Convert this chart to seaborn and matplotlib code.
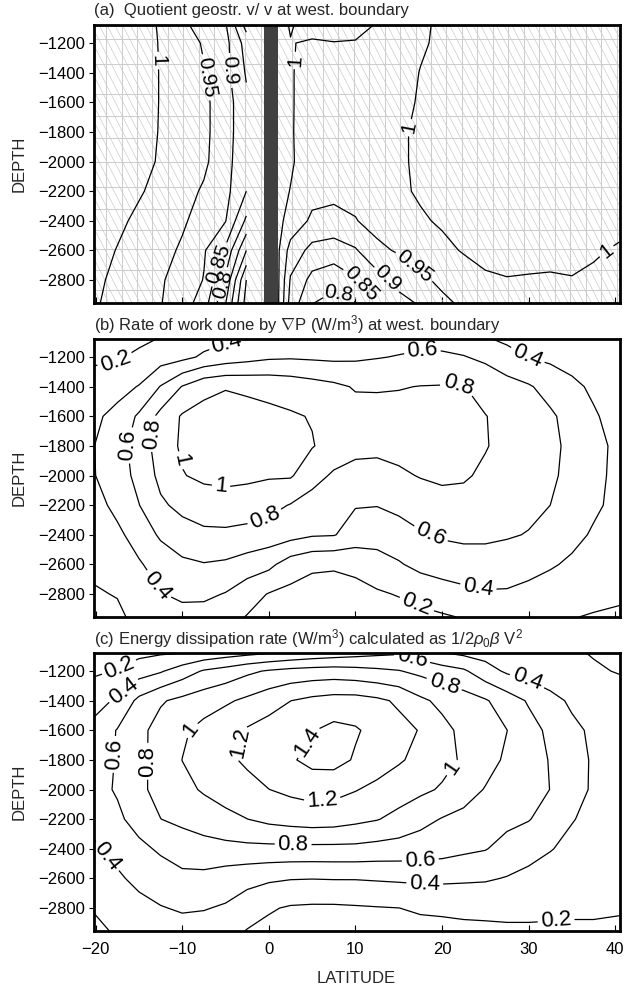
import numpy as np
import matplotlib
matplotlib.use("Agg")
import matplotlib.pyplot as plt
import seaborn as sns

sns.set_theme(style="ticks")
plt.rcParams.update({
    "font.family": ["Liberation Sans", "DejaVu Sans"],
    "mathtext.fontset": "custom",
    "mathtext.rm": "Liberation Sans",
    "mathtext.it": "Liberation Sans:italic",
    "mathtext.bf": "Liberation Sans:bold",
    "axes.linewidth": 1.9,
    "axes.edgecolor": "black",
    "xtick.color": "black",
    "ytick.color": "black",
})

# ---------------------------------------------------------------- data
DEPTH = [-1078, -1200, -1400, -1600, -1800, -2000, -2200, -2400, -2600, -2800, -2955]

# latitudes of panel (a); the column at -1.0 is the land mask at the equator
LAT_A = [-20.25, -17.5, -15, -12.5, -10, -7.5, -5, -2.6, -1.0,
         1.1, 2.5, 5, 7.5, 10, 12.5, 15, 17.5, 20, 22.5, 25, 27.5, 30, 32.5, 35, 37.5, 40.5]
NAN = float("nan")
QUOTIENT = [
    [1.04, 1.03, 1.02, 0.995, 0.96, 0.93, 0.905, 0.78, NAN,
     1.01, 0.998, 1.01, 1.013, 1.01, 0.998, 0.99, 0.995, 1.005, 1.01, 1.012, 1.012, 1.012, 1.012, 1.012, 1.012, 1.012],
    [1.04, 1.03, 1.02, 0.997, 0.975, 0.945, 0.915, 0.83, NAN,
     1.01, 1.001, 0.997, 0.999, 0.998, 0.99, 0.985, 0.996, 1.006, 1.01, 1.012, 1.012, 1.012, 1.012, 1.012, 1.012, 1.012],
    [1.04, 1.03, 1.02, 0.998, 0.977, 0.953, 0.915, 0.845, NAN,
     1.012, 1.002, 0.99, 0.985, 0.982, 0.982, 0.987, 1.001, 1.008, 1.012, 1.012, 1.012, 1.012, 1.012, 1.012, 1.012, 1.012],
    [1.04, 1.03, 1.02, 0.998, 0.98, 0.96, 0.925, 0.86, NAN,
     1.013, 1.003, 0.985, 0.978, 0.975, 0.976, 0.988, 1.004, 1.01, 1.012, 1.012, 1.012, 1.012, 1.012, 1.012, 1.012, 1.012],
    [1.04, 1.03, 1.02, 0.997, 0.98, 0.96, 0.925, 0.86, NAN,
     1.013, 1.003, 0.983, 0.975, 0.972, 0.975, 0.995, 1.006, 1.01, 1.012, 1.012, 1.012, 1.012, 1.012, 1.012, 1.012, 1.012],
    [1.04, 1.03, 1.015, 0.995, 0.978, 0.958, 0.922, 0.855, NAN,
     1.013, 1.004, 0.982, 0.972, 0.968, 0.972, 0.995, 1.006, 1.01, 1.012, 1.012, 1.012, 1.012, 1.012, 1.012, 1.012, 1.012],
    [1.04, 1.025, 1.005, 0.985, 0.965, 0.945, 0.915, 0.85, NAN,
     1.01, 0.999, 0.968, 0.962, 0.962, 0.968, 0.993, 1.005, 1.01, 1.012, 1.012, 1.012, 1.012, 1.012, 1.012, 1.012, 1.012],
    [1.035, 1.01, 0.99, 0.975, 0.955, 0.935, 0.902, 0.79, NAN,
     1.01, 0.985, 0.94, 0.935, 0.948, 0.965, 0.98, 0.995, 1.005, 1.01, 1.012, 1.012, 1.012, 1.012, 1.012, 1.01, 1.005],
    [1.02, 0.998, 0.982, 0.962, 0.945, 0.905, 0.84, 0.70, NAN,
     1.005, 0.93, 0.885, 0.875, 0.895, 0.94, 0.955, 0.975, 0.99, 1.003, 1.008, 1.008, 1.008, 1.008, 1.006, 1.002, 0.998],
    [1.01, 0.99, 0.972, 0.955, 0.93, 0.898, 0.79, 0.60, NAN,
     1.005, 0.895, 0.835, 0.82, 0.845, 0.88, 0.915, 0.94, 0.96, 0.98, 0.996, 0.999, 0.998, 0.997, 0.999, 0.997, 0.99],
    [1.006, 0.985, 0.966, 0.952, 0.925, 0.875, 0.752, 0.58, NAN,
     1.003, 0.88, 0.802, 0.78, 0.798, 0.852, 0.885, 0.905, 0.94, 0.958, 0.97, 0.98, 0.985, 0.985, 0.988, 0.99, 0.985],
]
LEVELS_A = [0.6, 0.65, 0.7, 0.75, 0.8, 0.85, 0.9, 0.95, 1.0]

LAT = [-20.25, -17.5, -15, -12.5, -10, -7.5, -5, -2.5, 0, 2.5, 5, 7.5, 10,
       12.5, 15, 17.5, 20, 22.5, 25, 27.5, 30, 32.5, 35, 37.5, 40.5]

WORK = [
    [0.08, 0.12, 0.16, 0.21, 0.27, 0.33, 0.37, 0.395, 0.41, 0.43, 0.44, 0.44, 0.46, 0.50, 0.53, 0.55, 0.54, 0.50, 0.42, 0.36, 0.34, 0.31, 0.29, 0.27, 0.25],
    [0.17, 0.18, 0.24, 0.31, 0.35, 0.43, 0.49, 0.53, 0.57, 0.58, 0.57, 0.56, 0.57, 0.59, 0.61, 0.63, 0.63, 0.61, 0.56, 0.48, 0.398, 0.36, 0.33, 0.30, 0.28],
    [0.27, 0.33, 0.41, 0.61, 0.81, 0.95, 0.99, 0.97, 0.95, 0.92, 0.88, 0.84, 0.785, 0.785, 0.79, 0.805, 0.81, 0.805, 0.74, 0.67, 0.62, 0.53, 0.44, 0.37, 0.31],
    [0.36, 0.46, 0.63, 0.86, 1.02, 1.06, 1.07, 1.06, 1.04, 1.02, 0.99, 0.93, 0.87, 0.86, 0.87, 0.89, 0.89, 0.86, 0.805, 0.75, 0.70, 0.63, 0.53, 0.42, 0.33],
    [0.395, 0.52, 0.69, 0.89, 1.03, 1.07, 1.08, 1.07, 1.06, 1.04, 1.01, 0.93, 0.85, 0.84, 0.86, 0.89, 0.89, 0.87, 0.81, 0.75, 0.70, 0.64, 0.56, 0.45, 0.36],
    [0.39, 0.50, 0.66, 0.85, 0.99, 1.04, 1.05, 1.04, 1.02, 1.02, 0.88, 0.77, 0.74, 0.74, 0.77, 0.81, 0.83, 0.82, 0.77, 0.73, 0.69, 0.63, 0.55, 0.44, 0.36],
    [0.33, 0.45, 0.595, 0.77, 0.85, 0.90, 0.92, 0.90, 0.86, 0.79, 0.71, 0.65, 0.61, 0.605, 0.64, 0.70, 0.74, 0.74, 0.71, 0.68, 0.65, 0.60, 0.52, 0.43, 0.35],
    [0.27, 0.36, 0.48, 0.63, 0.72, 0.76, 0.76, 0.74, 0.71, 0.67, 0.62, 0.61, 0.52, 0.50, 0.53, 0.58, 0.62, 0.64, 0.64, 0.62, 0.59, 0.53, 0.45, 0.38, 0.32],
    [0.22, 0.29, 0.38, 0.48, 0.56, 0.59, 0.57, 0.51, 0.45, 0.30, 0.23, 0.22, 0.24, 0.30, 0.38, 0.46, 0.50, 0.51, 0.51, 0.49, 0.46, 0.42, 0.37, 0.33, 0.29],
    [0.19, 0.205, 0.30, 0.39, 0.44, 0.44, 0.39, 0.28, 0.19, 0.15, 0.13, 0.13, 0.15, 0.18, 0.21, 0.25, 0.30, 0.35, 0.38, 0.38, 0.35, 0.31, 0.27, 0.24, 0.22],
    [0.13, 0.18, 0.23, 0.30, 0.33, 0.32, 0.27, 0.19, 0.14, 0.10, 0.08, 0.08, 0.09, 0.11, 0.13, 0.16, 0.18, 0.21, 0.24, 0.26, 0.25, 0.23, 0.205, 0.19, 0.18],
]
LEVELS_B = [0.2, 0.4, 0.6, 0.8, 1.0]

DISSIPATION = [
    [0.10, 0.13, 0.15, 0.18, 0.198, 0.26, 0.31, 0.35, 0.39, 0.43, 0.47, 0.50, 0.53, 0.56, 0.58, 0.50, 0.41, 0.36, 0.33, 0.30, 0.27, 0.25, 0.22, 0.19, 0.16],
    [0.17, 0.21, 0.31, 0.38, 0.50, 0.62, 0.68, 0.76, 0.82, 0.86, 0.88, 0.89, 0.87, 0.84, 0.81, 0.75, 0.69, 0.63, 0.48, 0.37, 0.32, 0.28, 0.25, 0.22, 0.19],
    [0.32, 0.43, 0.65, 0.78, 0.85, 0.91, 0.97, 1.04, 1.12, 1.198, 1.25, 1.28, 1.28, 1.24, 1.17, 1.04, 0.95, 0.89, 0.82, 0.70, 0.58, 0.46, 0.37, 0.32, 0.28],
    [0.46, 0.61, 0.75, 0.87, 0.97, 1.06, 1.14, 1.22, 1.28, 1.33, 1.39, 1.45, 1.42, 1.34, 1.26, 1.19, 1.06, 0.95, 0.88, 0.802, 0.67, 0.56, 0.44, 0.37, 0.32],
    [0.53, 0.61, 0.75, 0.875, 1.002, 1.08, 1.16, 1.23, 1.30, 1.375, 1.46, 1.47, 1.38, 1.30, 1.22, 1.15, 1.06, 0.975, 0.87, 0.77, 0.68, 0.59, 0.47, 0.38, 0.34],
    [0.53, 0.62, 0.76, 0.86, 0.95, 1.02, 1.08, 1.14, 1.198, 1.24, 1.27, 1.26, 1.21, 1.15, 1.10, 1.04, 0.98, 0.88, 0.79, 0.72, 0.66, 0.598, 0.46, 0.38, 0.33],
    [0.46, 0.56, 0.68, 0.798, 0.85, 0.90, 0.95, 0.998, 1.05, 1.08, 1.10, 1.09, 1.05, 1.01, 0.94, 0.86, 0.79, 0.75, 0.70, 0.65, 0.61, 0.52, 0.41, 0.35, 0.31],
    [0.37, 0.46, 0.55, 0.63, 0.68, 0.72, 0.74, 0.75, 0.75, 0.75, 0.75, 0.75, 0.75, 0.73, 0.72, 0.70, 0.68, 0.64, 0.61, 0.53, 0.47, 0.41, 0.35, 0.31, 0.28],
    [0.30, 0.37, 0.45, 0.50, 0.56, 0.55, 0.50, 0.46, 0.43, 0.41, 0.405, 0.41, 0.41, 0.42, 0.43, 0.44, 0.44, 0.43, 0.42, 0.39, 0.35, 0.31, 0.28, 0.26, 0.25],
    [0.21, 0.28, 0.34, 0.39, 0.42, 0.41, 0.38, 0.30, 0.22, 0.18, 0.17, 0.17, 0.18, 0.19, 0.199, 0.22, 0.23, 0.24, 0.25, 0.25, 0.25, 0.24, 0.23, 0.22, 0.21],
    [0.16, 0.22, 0.27, 0.31, 0.33, 0.32, 0.28, 0.19, 0.15, 0.12, 0.11, 0.11, 0.12, 0.13, 0.14, 0.15, 0.15, 0.16, 0.16, 0.17, 0.17, 0.17, 0.17, 0.18, 0.18],
]
LEVELS_C = [0.2, 0.4, 0.6, 0.8, 1.0, 1.2, 1.4]

TITLES = [
    "(a)  Quotient geostr. v/ v at west. boundary",
    r"(b) Rate of work done by $\nabla$P (W/m$^3$) at west. boundary",
    r"(c) Energy dissipation rate (W/m$^3$) calculated as 1/2$\rho_0\beta$ V$^2$",
]

# label anchor points (lat, depth) for the contour labels
LABELS_A = [(-12.1, -1317), (-7.1, -1430), (-4.3, -1385), (2.8, -1317), (16.0, -1768),
            (38.3, -2560), (-5.9, -2690), (-5.2, -2830), (16.5, -2731), (13.6, -2800),
            (10.4, -2840), (8.1, -2885)]
LABELS_B = [(-17.7, -1234), (-4.9, -1100), (17.7, -1189), (29.8, -1200), (21.9, -1401),
            (-16.0, -1800), (-13.7, -1715), (-10.4, -1900), (-5.6, -2106), (-0.5, -2274),
            (18.6, -2408), (-12.8, -2740), (24.2, -2755), (17.2, -2856)]
LABELS_C = [(-17.1, -1200), (-16.6, -1346), (16.6, -1100), (20.3, -1279), (30.0, -1234),
            (-9.2, -1583), (-3.7, -1680), (4.0, -1662), (-17.7, -1763), (-14.0, -1809),
            (21.2, -1854), (6.2, -2097), (2.8, -2395), (-18.9, -2462), (17.5, -2485),
            (18.0, -2654), (33.2, -2902)]

# ---------------------------------------------------------------- figure
W, H = 624, 985
fig = plt.figure(figsize=(W / 100, H / 100), dpi=100)
left, width, height = 93.5 / W, 526 / W, 278 / H
tops = [25, 339, 653]
XLIM = (-20.25, 40.5)
YLIM = (-2955, -1078)


def fmt(v):
    return f"{v:g}"


def style_axes(ax, show_x):
    ax.set_xlim(*XLIM)
    ax.set_ylim(*YLIM)
    ax.set_yticks(np.arange(-2800, -1199, 200))
    ax.set_xticks(np.arange(-20, 41, 10))
    ax.tick_params(axis="y", direction="out", length=3.5, width=0.8, pad=2.5, labelsize=12)
    ax.tick_params(axis="x", direction="in", length=4, width=0.8, pad=8, labelsize=12)
    if not show_x:
        ax.tick_params(axis="x", labelbottom=False)
    ax.set_ylabel("DEPTH", fontsize=12, labelpad=8)
    for s in ax.spines.values():
        s.set_linewidth(2.0)
        s.set_zorder(5)


axes = []
for i, top in enumerate(tops):
    ax = fig.add_axes([left, 1 - (top + 278) / H, width, height])
    axes.append(ax)

# (a) model grid, hatching and land mask
ax = axes[0]
for x in -18.8 + 1.787 * np.arange(34):
    ax.axvline(x, color="#cdcdcd", lw=0.75, zorder=0.5)
for y in [-1175, -1340, -1545, -1695, -1840, -2000, -2170, -2320, -2460, -2590, -2730, -2870]:
    ax.axhline(y, color="#cdcdcd", lw=0.75, zorder=0.5)
shift = 0.27
for x0 in np.arange(-0.3, 1.35, 0.0148):
    ax.plot([x0, x0 + shift], [1, 0], transform=ax.transAxes, color="#cccccc",
            lw=0.5, zorder=0.6, clip_on=True)
ax.axvspan(-0.55, 1.05, color="#404040", zorder=3, lw=0)

panels = [
    (LAT_A, QUOTIENT, LEVELS_A, LABELS_A, 15),
    (LAT, WORK, LEVELS_B, LABELS_B, 16),
    (LAT, DISSIPATION, LEVELS_C, LABELS_C, 16),
]
for i, (ax, (lat, field, levels, labels, fs)) in enumerate(zip(axes, panels)):
    z = np.ma.masked_invalid(np.array(field, dtype=float))
    cs = ax.contour(lat, DEPTH, z, levels=levels, colors="black", linewidths=0.9, zorder=2)
    ax.clabel(cs, levels=levels, inline=True, inline_spacing=3, fmt=fmt, fontsize=fs,
              manual=labels)
    style_axes(ax, show_x=(i == 2))
    ax.text(0.0, 1 + 14 / 278, TITLES[i], transform=ax.transAxes, ha="left", va="center",
            fontsize=12)

axes[2].set_xlabel("LATITUDE", fontsize=12, labelpad=10)
sns.despine(fig=fig, top=False, right=False, left=False, bottom=False)

fig.savefig("out.png", dpi=100)
